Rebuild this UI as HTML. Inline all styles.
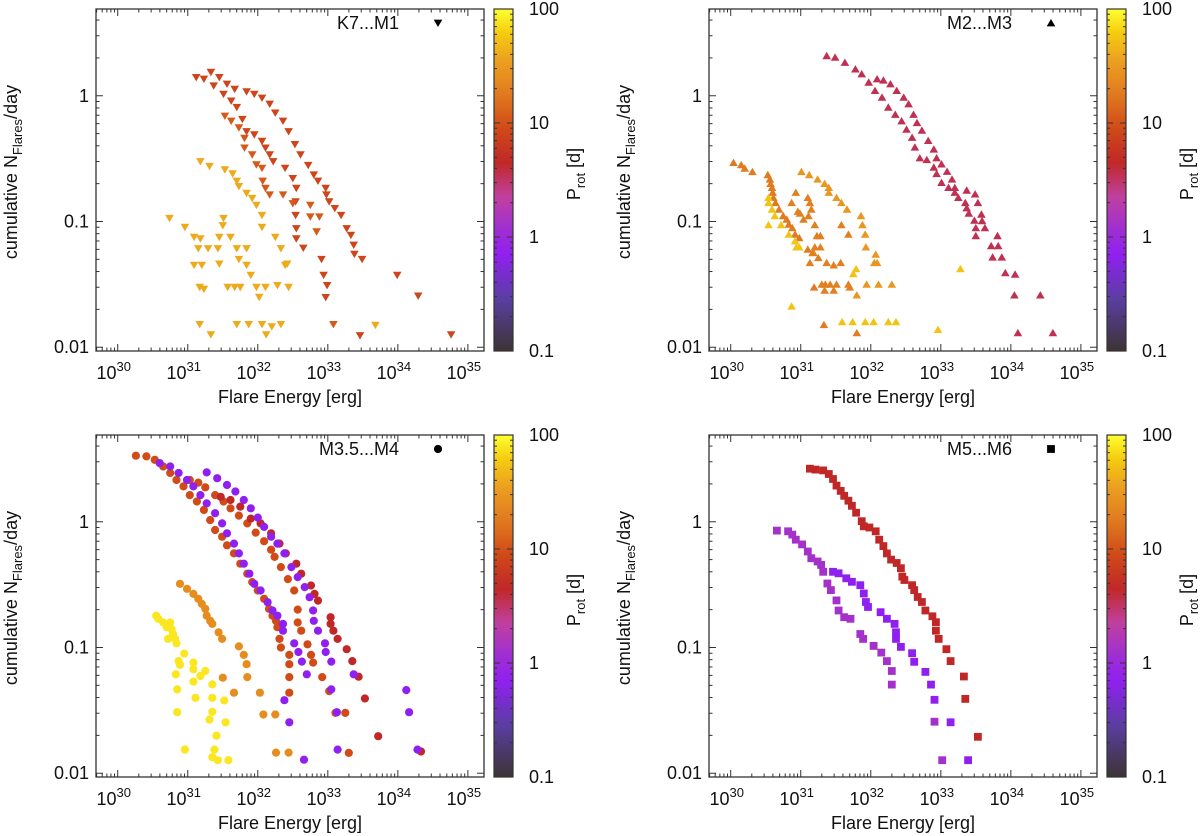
<!DOCTYPE html>
<html><head><meta charset="utf-8"><title>Flare frequency distributions</title>
<style>
html,body{margin:0;padding:0;background:#fff;}
svg{display:block;font-family:"Liberation Sans",Arial,sans-serif;}
</style></head>
<body>
<svg id="fig" width="1200" height="836" viewBox="0 0 1200 836" xmlns="http://www.w3.org/2000/svg">
<defs>
<linearGradient id="cmap" x1="0" y1="1" x2="0" y2="0">
<stop offset="0" stop-color="#3c3434"/><stop offset="0.15" stop-color="#5a3ea0"/><stop offset="0.28" stop-color="#9020f0"/><stop offset="0.36" stop-color="#a030d0"/><stop offset="0.45" stop-color="#c040a0"/><stop offset="0.55" stop-color="#c02828"/><stop offset="0.65" stop-color="#d04a18"/><stop offset="0.75" stop-color="#e07a20"/><stop offset="0.85" stop-color="#eca020"/><stop offset="0.93" stop-color="#f5cc10"/><stop offset="1" stop-color="#ffff30"/>
</linearGradient>
</defs>
</svg>
<script>
// ===== data (log10 energy [erg], cumulative flares/day) =====
const panelTitles = ["K7...M1","M2...M3","M3.5...M4","M5...M6"];
const xTickExps = [30,31,32,33,34,35];
const yTickVals = [0.01,0.1,1];
const yTickLabels = ["0.01","0.1","1"];
const cbTickVals = [0.1,1,10,100];
const cbTickLabels = ["0.1","1","10","100"];

// Panel 1: K7...M1
const k7Periods = [8,8,11,40,40];
const k7StarA = [[31.33,1.54],[31.45,1.40],[31.56,1.24],[31.67,1.13],[31.84,1.08],[31.95,1.03],[32.06,0.96],[32.17,0.86],[32.25,0.73],[32.36,0.63],[32.44,0.52],[32.53,0.41],[32.61,0.34],[32.72,0.28],[32.80,0.235],[32.86,0.21],[32.97,0.184],[32.98,0.163],[33.02,0.144],[33.10,0.127],[33.19,0.112],[33.27,0.088],[33.33,0.078],[33.37,0.065],[33.38,0.055],[33.49,0.050],[33.99,0.0375],[34.29,0.0256],[34.76,0.0126]];
const k7StarB = [[31.12,1.40],[31.23,1.36],[31.37,1.20],[31.51,1.03],[31.62,0.91],[31.70,0.81],[31.78,0.65],[31.84,0.52],[31.95,0.49],[32.06,0.435],[32.11,0.385],[32.17,0.34],[32.22,0.30],[32.39,0.266],[32.50,0.22],[32.55,0.184],[32.54,0.144],[32.54,0.112],[32.55,0.088],[32.55,0.073],[32.65,0.0615],[32.91,0.050],[32.94,0.0375],[32.99,0.031],[32.97,0.0249],[33.46,0.0124]];
const k7StarC = [[31.53,0.69],[31.62,0.63],[31.73,0.557],[31.81,0.46],[31.81,0.385],[31.92,0.34],[31.98,0.283],[32.06,0.266],[32.07,0.21],[32.11,0.184],[32.17,0.163],[32.36,0.163],[32.50,0.139],[32.75,0.135],[32.75,0.109],[32.88,0.109],[32.84,0.083],[33.08,0.0152]];
const k7StarD = [[31.18,0.30],[31.31,0.275],[31.53,0.258],[31.64,0.24],[31.70,0.21],[31.73,0.19],[31.84,0.168],[31.92,0.153],[31.98,0.135],[32.06,0.112],[32.06,0.09],[32.25,0.075],[32.33,0.061],[32.42,0.046],[32.28,0.031],[32.44,0.030],[32.11,0.030],[32.02,0.025],[33.68,0.015]];
const k7StarE = [[30.74,0.106],[30.96,0.09],[31.09,0.075],[31.18,0.073],[31.15,0.061],[31.29,0.061],[31.09,0.045],[31.20,0.045],[31.17,0.030],[31.23,0.029],[31.17,0.0152],[31.33,0.0126],[31.45,0.075],[31.51,0.106],[31.50,0.093],[31.61,0.075],[31.43,0.061],[31.45,0.046],[31.57,0.030],[31.67,0.030],[31.75,0.030],[31.70,0.061],[31.73,0.050],[31.84,0.061],[31.84,0.045],[31.90,0.0375],[31.98,0.030],[31.70,0.0152],[31.87,0.0152],[32.06,0.0152],[32.20,0.0146],[32.33,0.0152],[32.12,0.0126],[32.39,0.045]];

// Panel 2: M2...M3
const m2Periods = [3.5,3.5,18,55,30,20];
const m2StarA1 = [[31.37,2.08],[31.49,2.02],[31.63,1.84],[31.78,1.63],[31.87,1.49],[31.97,1.28],[32.06,1.10],[32.16,0.97],[32.25,0.81],[32.35,0.71],[32.44,0.63],[32.51,0.54],[32.59,0.466],[32.63,0.39],[32.70,0.32],[32.80,0.31],[32.90,0.27],[32.94,0.24],[33.01,0.204],[33.11,0.186],[33.20,0.17],[33.35,0.141],[33.37,0.128],[33.40,0.116],[33.48,0.102],[33.50,0.089],[33.50,0.077],[33.72,0.064],[33.74,0.052],[33.92,0.039],[34.05,0.026],[34.10,0.013]];
const m2StarA2 = [[32.09,1.36],[32.18,1.33],[32.28,1.24],[32.37,1.10],[32.47,0.97],[32.54,0.86],[32.61,0.71],[32.66,0.61],[32.73,0.53],[32.82,0.44],[32.90,0.376],[32.94,0.32],[33.01,0.286],[33.09,0.25],[33.16,0.217],[33.20,0.186],[33.25,0.155],[33.37,0.177],[33.49,0.165],[33.53,0.141],[33.58,0.114],[33.59,0.101],[33.63,0.089],[33.81,0.077],[33.82,0.064],[33.87,0.052],[34.06,0.038],[34.42,0.026],[34.60,0.013]];
const m2StarB = [[30.04,0.294],[30.15,0.282],[30.20,0.265],[30.31,0.249],[30.53,0.235],[30.56,0.217],[30.57,0.20],[30.59,0.186],[30.60,0.17],[30.61,0.155],[30.64,0.141],[30.69,0.125],[30.75,0.111],[30.80,0.104],[30.83,0.095],[30.88,0.089],[30.92,0.079],[30.98,0.074],[31.10,0.060],[31.17,0.0565],[31.19,0.030],[31.33,0.0151],[31.80,0.013]];
const m2StarC = [[30.54,0.155],[30.54,0.141],[30.59,0.125],[30.63,0.111],[30.54,0.094],[30.72,0.094],[30.83,0.079],[30.92,0.070],[30.94,0.0626],[30.98,0.0626],[30.87,0.0212],[31.59,0.0159],[31.74,0.0159],[31.92,0.0159],[32.04,0.0159],[32.25,0.0159],[32.36,0.0159],[32.96,0.0138],[33.28,0.042],[31.75,0.0384],[31.79,0.042]];
const m2StarD = [[31.01,0.249],[31.12,0.235],[31.24,0.217],[31.34,0.20],[31.40,0.186],[31.40,0.17],[31.51,0.155],[31.58,0.141],[31.66,0.125],[31.86,0.111],[31.88,0.094],[31.92,0.079],[31.93,0.0626],[32.07,0.0547],[32.05,0.047],[32.09,0.047],[32.30,0.0316],[32.11,0.0316],[31.94,0.0316],[31.80,0.026]];
const m2StarE = [[30.93,0.17],[30.87,0.141],[30.96,0.120],[30.99,0.116],[31.04,0.104],[31.11,0.111],[31.10,0.155],[31.13,0.141],[31.15,0.125],[31.20,0.094],[31.23,0.077],[31.28,0.077],[31.20,0.0626],[31.28,0.0626],[31.18,0.0565],[31.25,0.0515],[31.13,0.047],[31.37,0.047],[31.47,0.045],[31.57,0.047],[31.30,0.0316],[31.35,0.0316],[31.42,0.0316],[31.51,0.0316],[31.68,0.0316],[31.70,0.030],[31.34,0.0283],[31.47,0.0283],[31.68,0.079],[31.58,0.094]];

// Panel 3: M3.5...M4
const m35Periods = [9,9,4.5,0.7,0.7,25,80];
const m35StarA = [[30.26,3.35],[30.41,3.31],[30.53,3.11],[30.65,2.75],[30.75,2.44],[30.84,2.15],[30.94,1.91],[31.03,1.63],[31.13,1.45],[31.23,1.24],[31.32,1.03],[31.39,0.86],[31.49,0.76],[31.56,0.65],[31.66,0.56],[31.75,0.464],[31.85,0.386],[31.92,0.331],[32.00,0.284],[32.09,0.244],[32.16,0.203],[32.21,0.179],[32.26,0.163],[32.28,0.145],[32.31,0.117],[32.33,0.10]];
const m35StarB = [[31.03,2.15],[31.15,2.05],[31.25,1.88],[31.39,1.63],[31.51,1.45],[31.61,1.28],[31.73,1.12],[31.85,0.97],[31.97,0.82],[32.09,0.70],[32.19,0.60],[32.24,0.525],[32.33,0.436],[32.43,0.35],[32.52,0.284],[32.57,0.20],[32.57,0.158],[32.62,0.136],[32.71,0.106],[32.76,0.0873],[32.79,0.0759],[32.45,0.0873],[32.45,0.0736],[32.45,0.0582],[32.45,0.0437],[32.92,0.0582],[33.02,0.045],[33.11,0.0302],[33.25,0.0302],[33.30,0.0145]];
const m35StarC = [[31.47,1.58],[31.61,1.49],[31.75,1.32],[31.90,1.06],[32.04,0.97],[32.19,0.81],[32.31,0.67],[32.40,0.56],[32.55,0.464],[32.62,0.386],[32.76,0.311],[32.81,0.267],[32.86,0.236],[33.04,0.174],[33.04,0.154],[33.08,0.136],[33.14,0.117],[33.27,0.097],[33.35,0.078],[33.44,0.0586],[33.53,0.0393],[33.72,0.0197],[34.33,0.0149]];
const m35StarD = [[30.60,2.93],[30.75,2.75],[30.87,2.44],[30.99,2.15],[31.08,1.91],[31.18,1.63],[31.27,1.40],[31.39,1.17],[31.49,0.97],[31.56,0.81],[31.66,0.67],[31.73,0.56],[31.80,0.464],[31.88,0.386],[31.95,0.321],[32.04,0.284],[32.14,0.229],[32.21,0.197],[32.28,0.179],[32.36,0.154],[32.36,0.136],[32.52,0.108],[32.58,0.092],[32.63,0.0773],[32.70,0.0612],[32.38,0.0381],[32.45,0.0254],[32.66,0.0128]];
const m35StarE = [[31.27,2.47],[31.42,2.22],[31.56,1.96],[31.68,1.74],[31.80,1.49],[31.90,1.28],[32.00,1.08],[32.09,0.91],[32.19,0.76],[32.28,0.67],[32.38,0.56],[32.48,0.436],[32.57,0.363],[32.67,0.302],[32.74,0.251],[32.79,0.197],[32.80,0.163],[32.86,0.136],[32.96,0.108],[32.97,0.092],[33.05,0.0773],[33.05,0.0464],[33.13,0.0306],[33.14,0.0154],[33.37,0.0612],[34.12,0.0458],[34.16,0.0306],[34.28,0.0154]];
const m35StarF = [[30.89,0.321],[30.99,0.293],[31.08,0.267],[31.15,0.244],[31.20,0.222],[31.25,0.203],[31.27,0.179],[31.32,0.163],[31.35,0.154],[31.44,0.132],[31.49,0.117],[31.73,0.102],[31.80,0.0873],[31.84,0.0736],[31.85,0.0582],[31.66,0.0437],[31.50,0.0575],[32.03,0.0437],[32.08,0.0293],[32.25,0.0293],[32.26,0.0146],[32.44,0.0146]];
const m35StarG = [[30.55,0.179],[30.58,0.169],[30.65,0.158],[30.70,0.145],[30.75,0.158],[30.77,0.140],[30.79,0.128],[30.72,0.117],[30.82,0.117],[30.84,0.108],[30.95,0.0895],[30.87,0.078],[30.89,0.0727],[30.83,0.0612],[31.08,0.0759],[31.08,0.0671],[31.25,0.065],[31.18,0.0593],[31.08,0.0535],[31.35,0.0509],[30.85,0.0464],[31.11,0.0398],[31.35,0.0398],[31.52,0.0379],[30.85,0.0306],[31.35,0.0308],[31.31,0.0267],[31.54,0.0254],[31.41,0.0199],[30.96,0.0154],[31.38,0.0154],[31.35,0.0134],[31.43,0.0127],[31.58,0.0127]];

// Panel 4: M5...M6
const m5Periods = [4.5,1.3,0.7];
const m5StarA = [[31.13,2.64],[31.21,2.60],[31.32,2.56],[31.40,2.40],[31.46,2.19],[31.51,1.94],[31.57,1.76],[31.62,1.61],[31.68,1.47],[31.73,1.34],[31.79,1.18],[31.87,1.01],[31.90,0.92],[31.98,0.90],[32.07,0.84],[32.12,0.72],[32.18,0.64],[32.23,0.56],[32.29,0.50],[32.37,0.47],[32.43,0.427],[32.45,0.366],[32.48,0.344],[32.59,0.313],[32.62,0.286],[32.67,0.252],[32.73,0.230],[32.78,0.197],[32.88,0.177],[32.93,0.159],[32.93,0.136],[32.97,0.117],[33.08,0.097],[33.14,0.078],[33.33,0.0588],[33.35,0.039],[33.53,0.0195]];
const m5StarB = [[30.66,0.85],[30.82,0.84],[30.88,0.79],[30.93,0.72],[31.02,0.66],[31.10,0.58],[31.15,0.513],[31.24,0.483],[31.29,0.454],[31.32,0.40],[31.38,0.323],[31.43,0.286],[31.51,0.237],[31.54,0.197],[31.62,0.174],[31.71,0.169],[31.85,0.128],[31.89,0.117],[32.04,0.103],[32.15,0.091],[32.23,0.078],[32.30,0.065],[32.30,0.0507],[32.91,0.0257],[33.02,0.0127]];
const m5StarC = [[31.46,0.40],[31.54,0.389],[31.65,0.355],[31.73,0.333],[31.85,0.313],[31.90,0.269],[31.93,0.230],[31.96,0.21],[32.14,0.191],[32.23,0.169],[32.34,0.154],[32.36,0.132],[32.36,0.117],[32.43,0.101],[32.59,0.090],[32.62,0.077],[32.78,0.064],[32.86,0.0507],[32.91,0.0384],[33.14,0.0254],[33.39,0.0127]];

const panelSeries = [
  [k7StarA,k7StarB,k7StarC,k7StarD,k7StarE],
  [m2StarA1,m2StarA2,m2StarB,m2StarC,m2StarD,m2StarE],
  [m35StarA,m35StarB,m35StarC,m35StarD,m35StarE,m35StarF,m35StarG],
  [m5StarA,m5StarB,m5StarC]
];
const panelPeriods = [k7Periods,m2Periods,m35Periods,m5Periods];
const panelMarkers = ["tri-down","tri-up","circle","square"];

// ===== layout =====
const NS = "http://www.w3.org/2000/svg";
const svg = document.getElementById('fig');
const boxes = [{l:96,t:9},{l:709,t:9},{l:96,t:435},{l:709,t:435}];
const W = 388, H = 342;
const XMIN = 29.69, XMAX = 35.23, YMIN = -2.03, YMAX = 0.69;

const cstops = [[0,[60,52,52]],[0.15,[90,62,160]],[0.28,[144,32,240]],[0.36,[160,48,208]],[0.45,[192,64,160]],[0.55,[192,40,40]],[0.65,[208,74,24]],[0.75,[224,122,32]],[0.85,[236,160,32]],[0.93,[245,204,16]],[1,[255,255,48]]];
function cmap(p){
  let t = Math.log10(p/0.1)/3; t = Math.max(0,Math.min(1,t));
  for(let i=1;i<cstops.length;i++){
    if(t<=cstops[i][0]){
      const a=cstops[i-1], b=cstops[i], f=(t-a[0])/(b[0]-a[0]);
      const c=a[1].map((v,k)=>Math.round(v+(b[1][k]-v)*f));
      return `rgb(${c[0]},${c[1]},${c[2]})`;
    }
  }
  return 'rgb(255,255,48)';
}
function mk(tag, attrs, parent){
  const e = document.createElementNS(NS, tag);
  for(const k in attrs) e.setAttribute(k, attrs[k]);
  (parent||svg).appendChild(e);
  return e;
}
function marker(type, cx, cy, fill, g){
  let e;
  if(type==="circle"){ e = mk('circle',{cx:cx.toFixed(1),cy:cy.toFixed(1),r:4.1,fill:fill},g); }
  else if(type==="square"){ e = mk('rect',{x:(cx-3.9).toFixed(1),y:(cy-3.9).toFixed(1),width:7.8,height:7.8,fill:fill},g); }
  else if(type==="tri-down"){ e = mk('polygon',{points:`${(cx-4.3).toFixed(1)},${(cy-3.4).toFixed(1)} ${(cx+4.3).toFixed(1)},${(cy-3.4).toFixed(1)} ${cx.toFixed(1)},${(cy+4).toFixed(1)}`,fill:fill},g); }
  else { e = mk('polygon',{points:`${(cx-4.3).toFixed(1)},${(cy+3.4).toFixed(1)} ${(cx+4.3).toFixed(1)},${(cy+3.4).toFixed(1)} ${cx.toFixed(1)},${(cy-4).toFixed(1)}`,fill:fill},g); }
  return e;
}

boxes.forEach((b,pi)=>{
  const xS = v => b.l + (v-XMIN)/(XMAX-XMIN)*W;
  const yS = n => b.t + (YMAX-Math.log10(n))/(YMAX-YMIN)*H;
  const g = mk('g',{});
  
  

  const pts = mk('g',{},g);
  
  
  panelSeries[pi].forEach((ser,si)=>{
    const col = cmap(panelPeriods[pi][si]);
    const sg = mk('g',{},pts);
    
    
    ser.forEach(p=>{
      const m = marker(panelMarkers[pi], xS(p[0]), yS(p[1]), col, sg);
      
      
    });
  });

  const fr = mk('rect',{x:b.l,y:b.t,width:W,height:H,fill:'none',stroke:'#333','stroke-width':1.3},g);
  
  

  const tk = mk('g',{stroke:'#333','stroke-width':1},g);
  
  
  for(let d=29; d<=35; d++){
    for(let m=1;m<=9;m++){
      const v = d+Math.log10(m);
      if(v<XMIN||v>XMAX) continue;
      const x = xS(v), L = m===1?7:3.5;
      mk('line',{x1:x,y1:b.t+H,x2:x,y2:b.t+H-L},tk);
      mk('line',{x1:x,y1:b.t,x2:x,y2:b.t+L},tk);
    }
  }
  for(let d=-3; d<=0; d++){
    for(let m=1;m<=9;m++){
      const v = d+Math.log10(m);
      if(v<YMIN||v>YMAX) continue;
      const y = b.t + (YMAX-v)/(YMAX-YMIN)*H, L = m===1?7:3.5;
      mk('line',{x1:b.l,y1:y,x2:b.l+L,y2:y},tk);
      mk('line',{x1:b.l+W,y1:y,x2:b.l+W-L,y2:y},tk);
    }
  }
  xTickExps.forEach(e=>{
    const t = mk('text',{x:xS(e)-4,y:b.t+H+28,'font-size':18,'text-anchor':'middle',fill:'#111'},g);
    
    
    t.textContent = '10';
    const s = mk('tspan',{dy:-8,'font-size':13},t); s.textContent = String(e);
  });
  yTickVals.forEach((v,i)=>{
    const t = mk('text',{x:b.l-7,y:yS(v)+6,'font-size':18,'text-anchor':'end',fill:'#111'},g);
    
    
    t.textContent = yTickLabels[i];
  });
  const xt = mk('text',{x:b.l+194,y:b.t+H+52,'font-size':18,'text-anchor':'middle',fill:'#111'},g);
  
  
  xt.textContent = 'Flare Energy [erg]';
  const yt = mk('text',{x:0,y:0,'font-size':18,'text-anchor':'middle',fill:'#111',transform:`translate(${b.l-79},${b.t+H/2-8}) rotate(-90)`},g);
  
  
  yt.appendChild(document.createTextNode('cumulative N'));
  const ys = mk('tspan',{dy:5,'font-size':13},yt); ys.textContent='Flares';
  const yr = mk('tspan',{dy:-5},yt); yr.textContent='/day';

  const lt = mk('text',{x:b.l+303,y:b.t+20,'font-size':18,'text-anchor':'end',fill:'#111'},g);
  
  
  lt.textContent = panelTitles[pi];
  const lm = marker(panelMarkers[pi], b.l+342, b.t+14, '#000', g);
  
  

  const cx = b.l+398, cw = 19;
  const cb = mk('rect',{x:cx,y:b.t,width:cw,height:H,fill:'url(#cmap)',stroke:'#333','stroke-width':1.2},g);
  
  
  const cbY = p => b.t + H - Math.log10(p/0.1)/3*H;
  const ctk = mk('g',{stroke:'#333','stroke-width':1},g);
  
  
  for(let d=-1; d<2; d++){
    for(let m=1;m<=9;m++){
      const y = cbY(Math.pow(10,d)*m), L = m===1?6:3;
      mk('line',{x1:cx,y1:y,x2:cx+L,y2:y},ctk);
      mk('line',{x1:cx+cw,y1:y,x2:cx+cw-L,y2:y},ctk);
    }
  }
  cbTickVals.forEach((v,i)=>{
    const t = mk('text',{x:cx+35,y:cbY(v)+6,'font-size':18,fill:'#111'},g);
    
    
    t.textContent = cbTickLabels[i];
  });
  const ct = mk('text',{x:0,y:0,'font-size':18,'text-anchor':'middle',fill:'#111',transform:`translate(${b.l+484},${b.t+H/2-6}) rotate(-90)`},g);
  
  
  ct.appendChild(document.createTextNode('P'));
  const cs = mk('tspan',{dy:5,'font-size':13},ct); cs.textContent='rot';
  const cr = mk('tspan',{dy:-5},ct); cr.textContent=' [d]';
});
</script>
</body></html>
